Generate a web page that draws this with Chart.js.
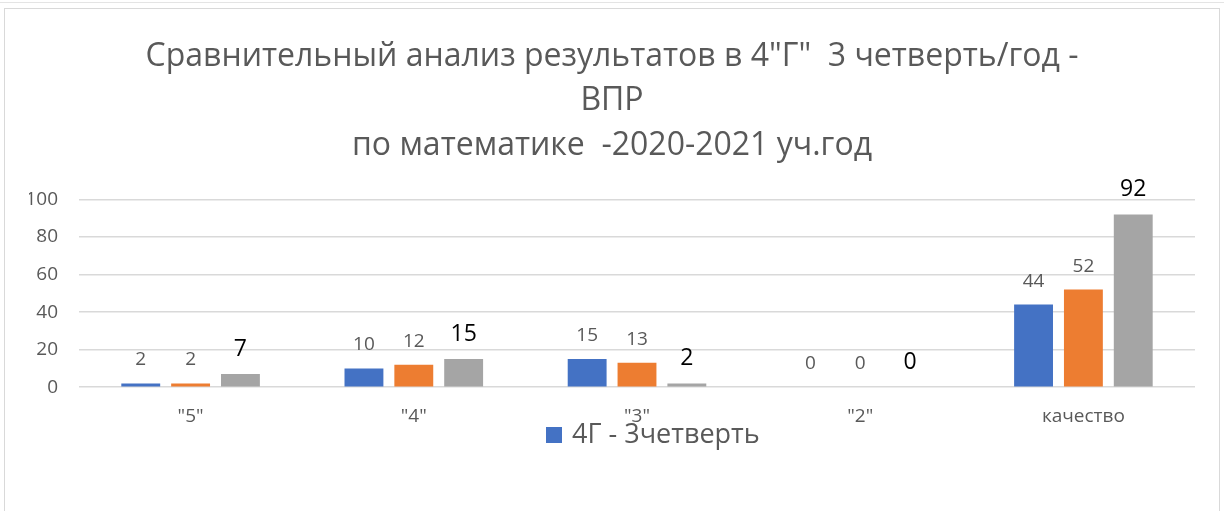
<!DOCTYPE html>
<html lang="ru">
<head>
  <meta charset="UTF-8">
  <title>Сравнительный анализ результатов</title>
  <script src="https://cdn.jsdelivr.net/npm/chart.js"></script>
  <style>
    body { margin: 0; background: #fff; }
    #topline { position: absolute; left: 0; top: 2px; width: 1224px; height: 1px; background: #e4e4e4; }
    #frame { position: absolute; left: 4px; top: 8px; width: 1214px; height: 520px; border: 1px solid #d9d9d9; }
    #wrap { position: absolute; left: 0; top: 0; width: 1224px; height: 511px; }
  </style>
</head>
<body>
  <div id="topline"></div>
  <div id="frame"></div>
  <div id="wrap"><canvas id="myChart" width="1224" height="511"></canvas></div>

  <script>
    // данные диаграммы
    const categories = ['"5"', '"4"', '"3"', '"2"', 'качество'];
    const seriesNames = ['4Г - 3четверть', '4Г - год', '4Г - ВПР'];
    const quarter = [2, 10, 15, 0, 44];
    const year = [2, 12, 13, 0, 52];
    const vpr = [7, 15, 2, 0, 92];
    const yTicks = [0, 20, 40, 60, 80, 100];

    const colors = ['#4472C4', '#ED7D31', '#A5A5A5'];
    const labelColors = ['#595959', '#595959', '#000000'];
    const labelSizes = [19, 19, 23];
    const fontFamily = '"Open Sans", sans-serif';

    // подписи значений над столбцами
    const valueLabels = {
      id: 'valueLabels',
      afterDatasetsDraw(chart) {
        const ctx = chart.ctx;
        chart.data.datasets.forEach((ds, i) => {
          const meta = chart.getDatasetMeta(i);
          meta.data.forEach((bar, j) => {
            ctx.save();
            ctx.font = labelSizes[i] + 'px ' + fontFamily;
            ctx.fillStyle = labelColors[i];
            ctx.textAlign = 'center';
            ctx.textBaseline = 'alphabetic';
            ctx.fillText(ds.data[j], bar.x, bar.y - 18);
            ctx.restore();
          });
        });
      }
    };

    // легенда только для первой серии, как в оригинале
    const singleLegend = {
      id: 'singleLegend',
      afterDraw(chart) {
        const ctx = chart.ctx;
        const ds = chart.data.datasets[0];
        ctx.save();
        ctx.fillStyle = ds.backgroundColor;
        ctx.fillRect(546, 427, 16, 16);
        ctx.font = '27px ' + fontFamily;
        ctx.fillStyle = '#595959';
        ctx.textBaseline = 'middle';
        ctx.fillText(ds.label, 572, 435);
        ctx.restore();
      }
    };

    const ctx = document.getElementById('myChart').getContext('2d');
    new Chart(ctx, {
      type: 'bar',
      data: {
        labels: categories,
        datasets: [quarter, year, vpr].map((vals, i) => ({
          label: seriesNames[i],
          data: vals,
          backgroundColor: colors[i],
          categoryPercentage: 0.67,
          barPercentage: 0.78
        }))
      },
      options: {
        responsive: false,
        animation: false,
        layout: { padding: { left: 29, right: 29, top: 0, bottom: 65 } },
        plugins: {
          legend: { display: false },
          tooltip: { enabled: false },
          title: {
            display: true,
            text: ['Сравнительный анализ результатов в 4"Г"  3 четверть/год -', 'ВПР', 'по математике  -2020-2021 уч.год'],
            color: '#595959',
            font: { family: fontFamily, size: 32, weight: 'normal', lineHeight: 1.38 },
            padding: { top: 35, bottom: 32 }
          }
        },
        scales: {
          x: {
            grid: { display: false, drawTicks: false },
            border: { display: false },
            ticks: { color: '#595959', font: { family: fontFamily, size: 19 }, padding: 18 }
          },
          y: {
            min: 0,
            max: 100,
            afterBuildTicks(scale) { scale.ticks = yTicks.map(v => ({ value: v })); },
            afterFit(scale) { scale.width = 50; },
            grid: { color: '#d9d9d9', lineWidth: 1.5, drawTicks: false },
            border: { display: false },
            ticks: { color: '#595959', font: { family: fontFamily, size: 19 }, padding: 21 }
          }
        }
      },
      plugins: [valueLabels, singleLegend]
    });
  </script>
</body>
</html>
